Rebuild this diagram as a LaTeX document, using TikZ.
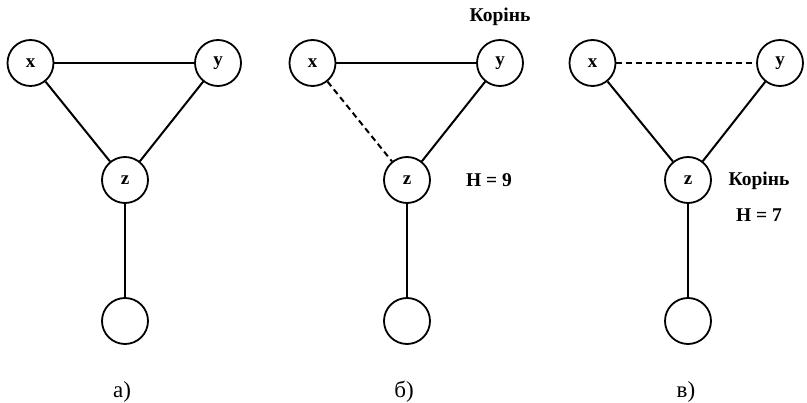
\documentclass[tikz,border=0pt]{standalone}
\usepackage{fontspec}
\setmainfont{Liberation Serif}
\begin{document}
\begin{tikzpicture}[x=1pt,y=-1pt,
  vertex/.style={circle,draw,line width=1.8pt,minimum size=46pt,inner sep=0pt,
    font=\fontsize{19}{19}\selectfont\bfseries},
  edge/.style={line width=2pt},
  weak/.style={edge,dash pattern=on 6pt off 4pt},
  note/.style={font=\fontsize{19.5}{20}\selectfont\bfseries,inner sep=0pt},
  caption/.style={font=\fontsize{23}{23}\selectfont,inner sep=0pt}]
\useasboundingbox (0,0) rectangle (807,403);

% (a) original graph
\node[vertex] (ax) at (30.5,63) {x};
\node[vertex] (ay) at (218,63) {y};
\node[vertex] (az) at (125,180) {z};
\node[vertex] (aw) at (125,321) {};
\draw[edge] (ax) -- (ay);
\draw[edge] (ax) -- (az);
\draw[edge] (ay) -- (az);
\draw[edge] (az) -- (aw);
\node[caption] (la) at (122,392) {а)};

% (b) spanning tree rooted at y
\node[vertex] (bx) at (312.5,63) {x};
\node[vertex] (by) at (500,63) {y};
\node[vertex] (bz) at (407,180) {z};
\node[vertex] (bw) at (407,321) {};
\draw[edge] (bx) -- (by);
\draw[weak] (bx) -- (bz);
\draw[edge] (by) -- (bz);
\draw[edge] (bz) -- (bw);
\node[note] (broot) at (500,17) {Корінь};
\node[note] (bh) at (489,180) {H = 9};
\node[caption] (lb) at (404,392) {б)};

% (c) spanning tree rooted at z
\node[vertex] (cx) at (592.5,63) {x};
\node[vertex] (cy) at (780,63) {y};
\node[vertex] (cz) at (688,180) {z};
\node[vertex] (cw) at (688,321) {};
\draw[weak] (cx) -- (cy);
\draw[edge] (cx) -- (cz);
\draw[edge] (cy) -- (cz);
\draw[edge] (cz) -- (cw);
\node[note] (croot) at (759,181) {Корінь};
\node[note] (ch) at (759,215) {H = 7};
\node[caption] (lc) at (686,392) {в)};
\end{tikzpicture}
\end{document}
